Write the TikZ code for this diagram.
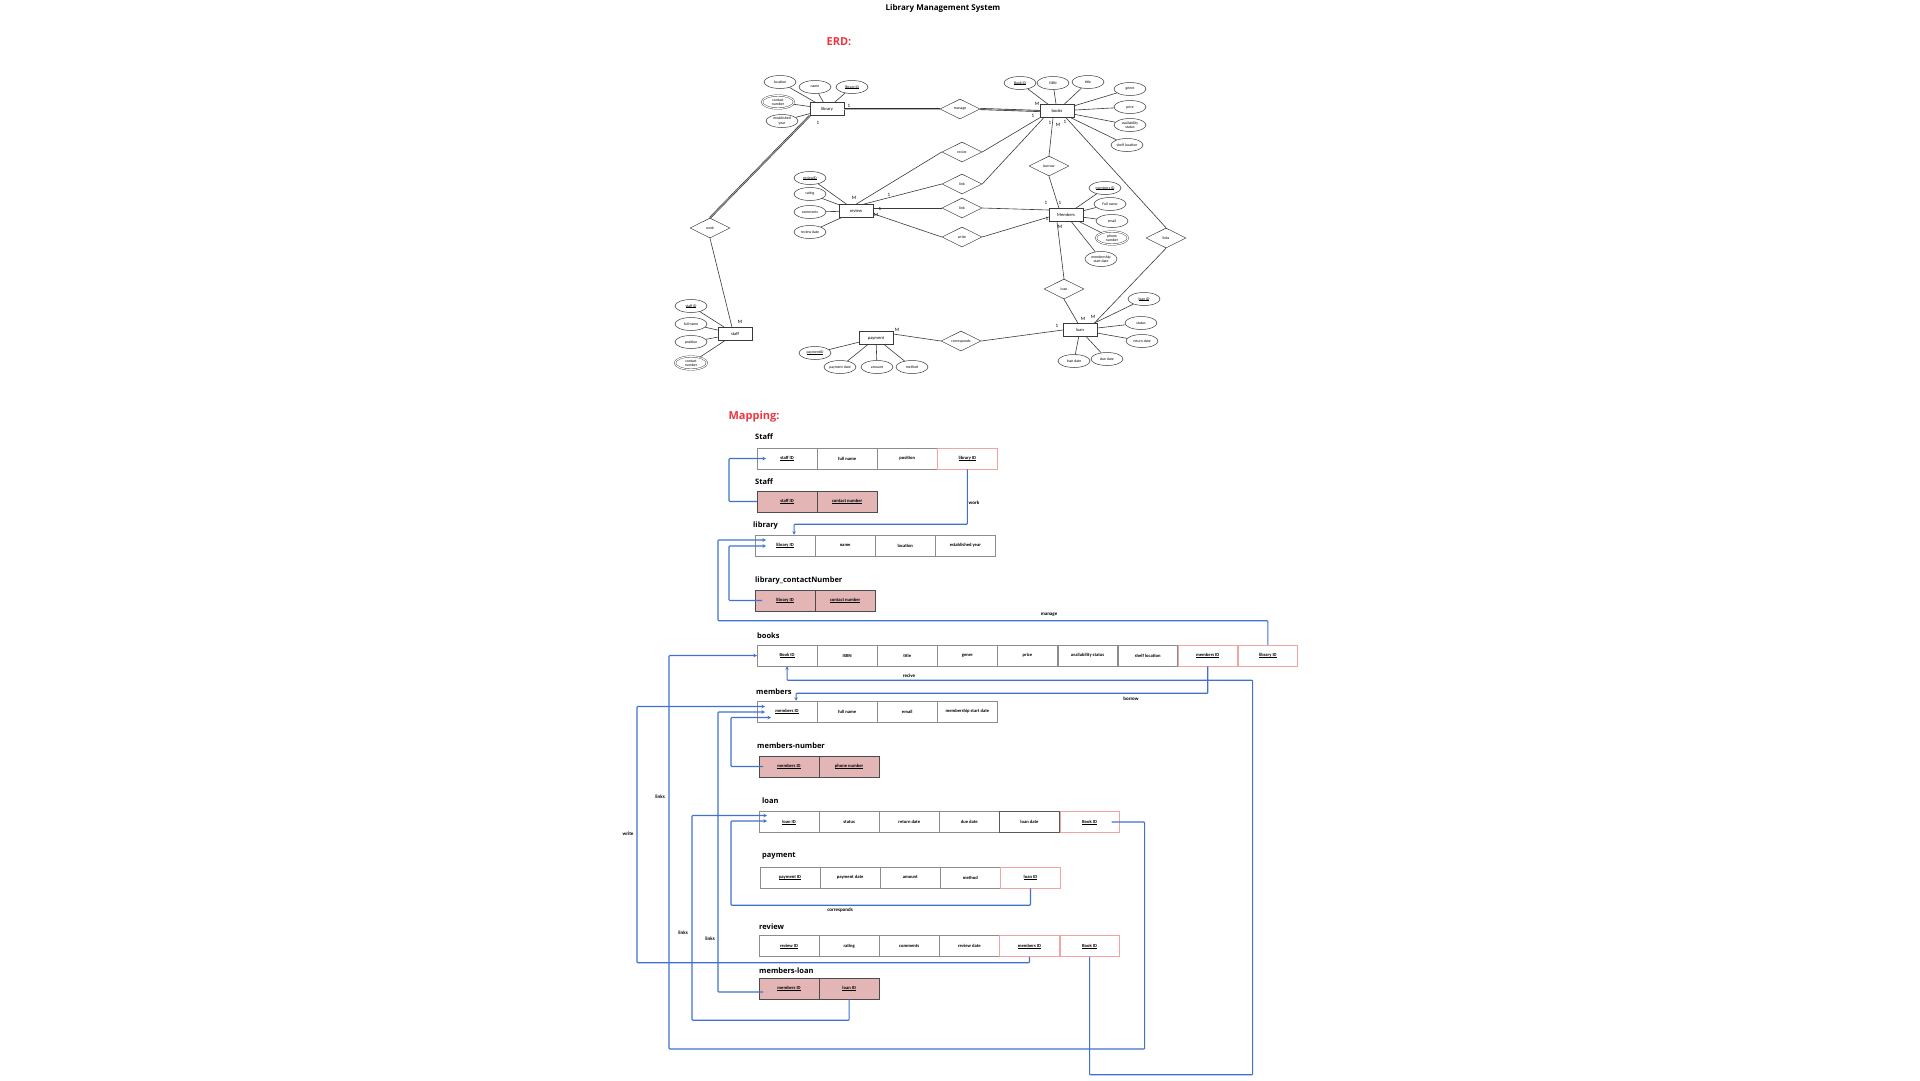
\documentclass[tikz,border=0pt]{standalone}
\usepackage{fontspec}
\setmainfont{Carlito}
\newfontfamily\headfont{Open Sans}
\usetikzlibrary{shapes.geometric,positioning,arrows.meta,calc}
\definecolor{headred}{HTML}{F0353F}
\definecolor{linkblue}{HTML}{3F72CF}
\definecolor{keyfill}{HTML}{E3B5B5}
\definecolor{fkred}{HTML}{F2A3A3}
\definecolor{cellgray}{HTML}{8C8C8C}
\definecolor{erdgray}{HTML}{3A3A3A}
% thin underline for key attributes
\newcommand{\keyu}[1]{\setbox0\hbox{#1}\rlap{\rule[-0.45pt]{\wd0}{0.14pt}}\box0}

\begin{document}
\begin{tikzpicture}[x=1pt,y=-1pt,
  erd/.style={draw=erdgray,line width=0.5pt},
  ent/.style={erd,rectangle,minimum width=34pt,minimum height=13pt,inner sep=0pt,font=\fontsize{4.5}{5}\selectfont},
  attr/.style={erd,ellipse,minimum width=32pt,minimum height=13pt,inner sep=0pt,align=center,font=\fontsize{3.8}{4.2}\selectfont},
  mattr/.style={attr,double,double distance=1.1pt,line width=0.4pt},
  rel/.style={erd,diamond,aspect=2,minimum width=40pt,minimum height=20pt,inner sep=0pt,font=\fontsize{3.8}{4.2}\selectfont},
  conn/.style={draw=erdgray,line width=0.6pt},
  total/.style={draw=erdgray!80!black,line width=0.6pt,double=gray!60,double distance=0.7pt},
  card/.style={font=\fontsize{5}{5}\selectfont,inner sep=0pt},
  cell/.style={draw=cellgray,line width=0.5pt,minimum width=59.6pt,minimum height=21pt,inner sep=0pt,anchor=west,font=\fontsize{4.6}{5}\selectfont\bfseries},
  fkcell/.style={cell,draw=fkred},
  pkcell/.style={cell,fill=keyfill,draw=gray!60!black},
  tabtitle/.style={anchor=west,inner sep=0pt,font=\headfont\fontsize{7.5}{8}\selectfont\bfseries},
  fkarrow/.style={draw=linkblue,line width=1.1pt,rounded corners=0.8pt,-{Stealth[length=3.5pt,width=3.5pt]}},
  fklabel/.style={inner sep=0pt,font=\fontsize{5}{5}\selectfont\bfseries}
]
\fill[white] (0,0) rectangle (1920,1080);
\useasboundingbox (0,0) rectangle (1920,1080);

% headings
\node[inner sep=0pt,font=\headfont\fontsize{8}{9}\selectfont\bfseries] (maintitle) at (943,8) {Library Management System};
\node[inner sep=0pt,font=\headfont\fontsize{11}{12}\selectfont\bfseries,text=headred] (erdhead) at (839,42) {ERD:};
\node[inner sep=0pt,font=\headfont\fontsize{11}{12}\selectfont\bfseries,text=headred] (maphead) at (754,417) {Mapping:};

% ---------------- ER diagram ----------------
% entities
\node[ent] (library) at (827,109) {library};
\node[ent] (books) at (1057,111) {books};
\node[ent] (review) at (856,211) {review};
\node[ent] (members) at (1066,215) {Members};
\node[ent] (loan) at (1080,330) {loan};
\node[ent] (payment) at (876,338) {payment};
\node[ent] (staff) at (735,334) {staff};

% relationships
\node[rel] (manage) at (960,109) {manage};
\node[rel] (recive) at (962,152) {recive};
\node[rel] (linkA) at (962,184) {link};
\node[rel] (linkB) at (962,208) {link};
\node[rel] (write) at (962,237) {write};
\node[rel] (borrow) at (1049,166) {borrow};
\node[rel] (links) at (1166,238) {links};
\node[rel] (loans) at (1064,289) {loan};
\node[rel] (corresponds) at (961,341) {corresponds};
\node[rel] (work) at (710,228) {work};

% library attributes
\node[attr] (libloc) at (780,82) {location};
\node[attr] (libname) at (815,87) {name};
\node[attr] (libid) at (852,87) {\keyu{library ID}};
\node[mattr] (libcontact) at (778,102) {contact\\number};
\node[attr] (libyear) at (782,121) {established\\year};
\foreach \a in {libloc,libname,libid,libcontact,libyear} \draw[conn] (\a) -- (library);

% books attributes
\node[attr] (bookid) at (1020,83) {\keyu{Book ID}};
\node[attr] (isbn) at (1053,83) {ISBN};
\node[attr] (btitle) at (1088,82) {title};
\node[attr] (genre) at (1130,89) {genre};
\node[attr] (price) at (1130,107) {price};
\node[attr] (avail) at (1130,125) {availability\\status};
\node[attr] (shelf) at (1127,145) {shelf location};
\foreach \a in {bookid,isbn,btitle,genre,price,avail,shelf} \draw[conn] (\a) -- (books);

% review attributes
\node[attr] (revid) at (810,178) {\keyu{reviewID}};
\node[attr] (rating) at (810,194) {rating};
\node[attr] (comments) at (810,212) {comments};
\node[attr] (revdate) at (810,232) {review date};
\foreach \a in {revid,rating,comments,revdate} \draw[conn] (\a) -- (review);

% members attributes
\node[attr] (memid) at (1105,188) {\keyu{members ID}};
\node[attr] (memname) at (1110,204) {Full name};
\node[attr] (mememail) at (1112,221) {email};
\node[mattr] (memphone) at (1112,238) {phone\\number};
\node[attr,minimum height=15pt] (memstart) at (1101,259) {membership\\start date};
\foreach \a in {memid,memname,mememail,memphone,memstart} \draw[conn] (\a) -- (members);

% loan attributes
\node[attr] (loanid) at (1144,299) {\keyu{loan ID}};
\node[attr] (lstatus) at (1141,323) {status};
\node[attr] (lreturn) at (1142,341) {return date};
\node[attr] (ldate) at (1074,361) {loan date};
\node[attr] (ldue) at (1107,359) {due date};
\foreach \a in {loanid,lstatus,lreturn,ldate,ldue} \draw[conn] (\a) -- (loan);

% payment attributes
\node[attr] (payid) at (815,353) {\keyu{paymentID}};
\node[attr] (paydate) at (840,367) {payment date};
\node[attr] (amount) at (877,367) {amount};
\node[attr] (method) at (912,367) {method};
\foreach \a in {payid,paydate,amount,method} \draw[conn] (\a) -- (payment);

% staff attributes
\node[attr] (staffid) at (691,306) {\keyu{staff ID}};
\node[attr] (stname) at (691,324) {full name};
\node[attr] (stpos) at (691,342) {position};
\node[mattr] (stcontact) at (691,363) {contact\\number};
\foreach \a in {staffid,stname,stpos,stcontact} \draw[conn] (\a) -- (staff);

% relationship lines
\draw[total] (library.east) -- (manage.west);
\draw[total] (manage.east) -- (books.west);
\draw[total] (library.south west) -- (work.north);
\draw[conn] (work.south) -- ($(staff.north)+(-3,0)$);
\draw[conn] (review.north) -- (recive.west);
\draw[conn] (recive.east) -- (books.south west);
\draw[conn] ($(review.north east)+(-10,0)$) -- (linkA.west);
\draw[conn] (linkA.east) -- ($(books.south west)+(4,0)$);
\draw[conn] ($(review.east)+(0,-3)$) -- (linkB.west);
\draw[conn] (linkB.east) -- ($(members.west)+(0,-5)$);
\draw[conn] ($(review.south east)+(0,-4)$) -- (write.west);
\draw[conn] (write.east) -- ($(members.west)+(0,2)$);
\draw[conn] (borrow.north) -- ($(books.south)+(-4,0)$);
\draw[conn] (borrow.south) -- ($(members.north)+(-7,0)$);
\draw[conn] (links.north) -- ($(books.south)+(9,0)$);
\draw[conn] (links.south) -- ($(loan.north east)+(-3,0)$);
\draw[conn] ($(members.south)+(-9,0)$) -- (loans.north);
\draw[conn] (loans.south) -- ($(loan.north)+(-2,0)$);
\draw[conn] ($(payment.east)+(0,-4)$) -- (corresponds.west);
\draw[conn] (corresponds.east) -- (loan.west);

% cardinalities
\node[card] (c1) at (849,106) {1};
\node[card] (c2) at (818,123) {1};
\node[card] (c3) at (1037,104) {M};
\node[card] (c4) at (1033,116) {1};
\node[card] (c5) at (1050,123) {1};
\node[card] (c6) at (1058,125) {M};
\node[card] (c7) at (1065,122) {1};
\node[card] (c8) at (854,198) {M};
\node[card] (c9) at (889,195) {1};
\node[card] (c10) at (880,209) {1};
\node[card] (c11) at (876,215) {M};
\node[card] (c12) at (1046,203) {1};
\node[card] (c13) at (1060,203) {1};
\node[card] (c14) at (1047,219) {1};
\node[card] (c15) at (1060,227) {M};
\node[card] (c16) at (897,330) {M};
\node[card] (c17) at (1057,326) {1};
\node[card] (c18) at (1083,319) {M};
\node[card] (c19) at (1093,317) {M};
\node[card] (c20) at (740,322) {M};

% ---------------- relational mapping ----------------
% Staff
\node[tabtitle] (tStaff) at (755,437) {Staff};
\node[cell] (st1) at (757,458.5) {\keyu{staff ID}};
\node[cell,right=0pt of st1] (st2) {full name};
\node[cell,right=0pt of st2] (st3) {position};
\node[fkcell,right=0pt of st3] (st4) {\keyu{library ID}};

\node[tabtitle] (tStaffC) at (755,482) {Staff};
\node[pkcell] (sc1) at (757,501.5) {\keyu{staff ID}};
\node[pkcell,right=0pt of sc1] (sc2) {\keyu{contact number}};

% library
\node[tabtitle] (tLib) at (753,526) {library};
\node[cell] (lb1) at (755,545.5) {\keyu{library ID}};
\node[cell,right=0pt of lb1] (lb2) {name};
\node[cell,right=0pt of lb2] (lb3) {location};
\node[cell,right=0pt of lb3] (lb4) {established year};

\node[tabtitle] (tLibC) at (755,581) {library\_contactNumber};
\node[pkcell] (lc1) at (755,600.5) {\keyu{library ID}};
\node[pkcell,right=0pt of lc1] (lc2) {\keyu{contact number}};

% books
\node[tabtitle] (tBooks) at (757,636) {books};
\node[cell] (bk1) at (757,655.5) {\keyu{Book ID}};
\node[cell,right=0pt of bk1] (bk2) {ISBN};
\node[cell,right=0pt of bk2] (bk3) {title};
\node[cell,right=0pt of bk3] (bk4) {genre};
\node[cell,right=0pt of bk4] (bk5) {price};
\node[cell,right=0pt of bk5] (bk6) {availability status};
\node[cell,right=0pt of bk6] (bk7) {shelf location};
\node[fkcell,right=0pt of bk7] (bk8) {\keyu{members ID}};
\node[fkcell,right=0pt of bk8] (bk9) {\keyu{library ID}};

% members
\node[tabtitle] (tMem) at (756,692) {members};
\node[cell] (mb1) at (757,711.5) {\keyu{members ID}};
\node[cell,right=0pt of mb1] (mb2) {full name};
\node[cell,right=0pt of mb2] (mb3) {email};
\node[cell,right=0pt of mb3] (mb4) {membership start date};

\node[tabtitle] (tMemN) at (757,746) {members-number};
\node[pkcell] (mn1) at (759,766.5) {\keyu{members ID}};
\node[pkcell,right=0pt of mn1] (mn2) {\keyu{phone number}};

% loan
\node[tabtitle] (tLoan) at (762,801) {loan};
\node[cell] (ln1) at (759,822) {\keyu{loan ID}};
\node[cell,right=0pt of ln1] (ln2) {status};
\node[cell,right=0pt of ln2] (ln3) {return date};
\node[cell,right=0pt of ln3] (ln4) {due date};
\node[cell,right=0pt of ln4,draw=gray!70!black] (ln5) {loan date};
\node[fkcell,right=0pt of ln5] (ln6) {\keyu{Book ID}};

% payment
\node[tabtitle] (tPay) at (762,856) {payment};
\node[cell] (py1) at (760,877.5) {\keyu{payment ID}};
\node[cell,right=0pt of py1] (py2) {payment date};
\node[cell,right=0pt of py2] (py3) {amount};
\node[cell,right=0pt of py3] (py4) {method};
\node[fkcell,right=0pt of py4] (py5) {\keyu{loan ID}};

% review
\node[tabtitle] (tRev) at (759,927) {review};
\node[cell] (rv1) at (759,946) {\keyu{review ID}};
\node[cell,right=0pt of rv1] (rv2) {rating};
\node[cell,right=0pt of rv2] (rv3) {comments};
\node[cell,right=0pt of rv3] (rv4) {review date};
\node[fkcell,right=0pt of rv4] (rv5) {\keyu{members ID}};
\node[fkcell,right=0pt of rv5] (rv6) {\keyu{Book ID}};

% members-loan
\node[tabtitle] (tMemL) at (759,971) {members-loan};
\node[pkcell] (ml1) at (759,988.5) {\keyu{members ID}};
\node[pkcell,right=0pt of ml1] (ml2) {\keyu{loan ID}};

% foreign key connectors
\draw[fkarrow] (sc1.west) -| ($(st1.west)+(-28,0)$) -- ($(st1.west)+(9,0)$);
\draw[fkarrow] (st4.south) -- ++(0,55) -| ($(lb1.north)+(9,0)$);
\draw[fkarrow] ($(lc1.west)+(7,0)$) -| ($(lb1.west)+(-26,0.5)$) -- ($(lb1.west)+(11,0.5)$);
\draw[fkarrow] (bk9.north) -- ++(0,-24) -| ($(lb1.west)+(-37,-5.5)$) -- ($(lb1.west)+(11,-5.5)$);
\draw[fkarrow] (rv6.south) -- ++(0,118) -- ++(163,0) |- ($(bk1.south)+(0,14)$) -- (bk1.south);
\draw[fkarrow] (bk8.south) -- ++(0,27) -| ($(mb1.north)+(9,0)$);
\draw[fkarrow] (rv5.south) -- ++(0,6) -| ($(mb1.west)+(-120,-5)$) -- ($(mb1.west)+(8,-5)$);
\draw[fkarrow] ($(ml1.west)+(4,3.5)$) -| ($(mb1.west)+(-39,0.5)$) -- ($(mb1.west)+(8,0.5)$);
\draw[fkarrow] ($(mn1.west)+(4,0)$) -| ($(mb1.west)+(-26,6)$) -- ($(mb1.west)+(14,6)$);
\draw[fkarrow] ($(ln6.center)+(22,0)$) -| ++(33,227) -| ($(bk1.west)+(-88,0)$) -- (bk1.west);
\draw[fkarrow] (py5.south) -- ++(0,17) -| ($(ln1.west)+(-28,-1)$) -- ($(ln1.west)+(8,-1)$);
\draw[fkarrow] (ml2.south) -- ++(0,21) -| ($(ln1.west)+(-67,-6.5)$) -- ($(ln1.west)+(8,-6.5)$);

% connector labels
\node[fklabel] (lWork) at (974,503) {work};
\node[fklabel] (lManage) at (1049,615) {manage};
\node[fklabel] (lRecive) at (909,676) {recive};
\node[fklabel] (lBorrow) at (1131,699) {borrow};
\node[fklabel] (lLinksA) at (660,797) {links};
\node[fklabel] (lWrite) at (628,834) {write};
\node[fklabel] (lCorr) at (840,910) {corresponds};
\node[fklabel] (lLinksB) at (683,933) {links};
\node[fklabel] (lLinksC) at (710,939) {links};
\end{tikzpicture}
\end{document}
